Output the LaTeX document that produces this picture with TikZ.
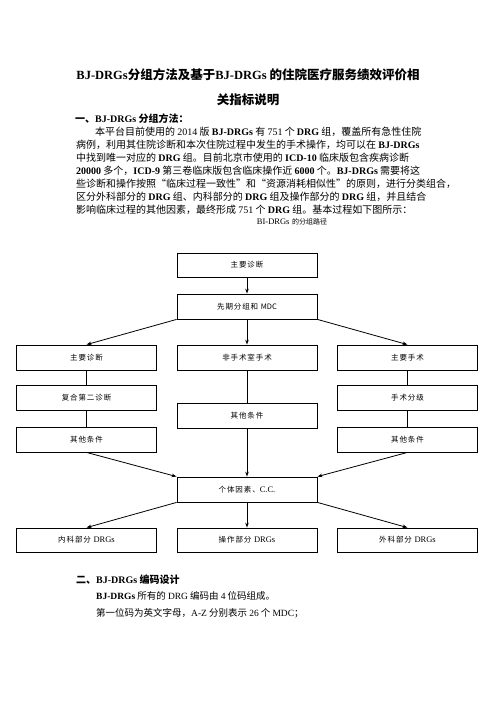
\documentclass[tikz,border=0pt]{standalone}
\usepackage{fontspec}
\setmainfont{Liberation Serif}
\newfontfamily\cjk{Noto Sans CJK SC}
\newfontfamily\cjkbox[LetterSpace=12]{Noto Sans CJK SC}
\newfontfamily\latin{Liberation Serif}
\newcommand\LB[1]{{\latin\bfseries #1}}
\newcommand\LR[1]{{\latin #1}}
\usetikzlibrary{arrows.meta}
\begin{document}
\begin{tikzpicture}[x=1pt,y=-1pt,
  box/.style={draw,line width=0.8pt,minimum width=140pt,minimum height=25pt,inner sep=0pt,font=\cjkbox\fontsize{7.5}{9}\selectfont},
  arr/.style={-{Stealth[length=5pt,width=3.5pt]},line width=0.8pt},
  ln/.style={line width=0.8pt},
  para/.style={anchor=base west,inner sep=0pt,font=\cjk\fontsize{10}{12}\selectfont},
  head/.style={anchor=base west,inner sep=0pt,font=\cjk\bfseries\fontsize{10}{12}\selectfont},
  sectwo/.style={anchor=base west,inner sep=0pt,font=\cjk\fontsize{9.5}{12}\selectfont},
  title/.style={anchor=base,inner sep=0pt,font=\cjk\bfseries\fontsize{12.5}{15}\selectfont},
]
\useasboundingbox[fill=white] (0,0) rectangle (496,702);
% title
\node[title] (t1) at (248,79.5) {\LB{BJ-DRGs}分组方法及基于\LB{BJ-DRGs} 的住院医疗服务绩效评价相};
\node[title] (t2) at (248,104) {关指标说明};
% section one
\node[head] (h1) at (75,122.5) {一、\LB{BJ-DRGs} 分组方法：};
\node[para] (p1) at (95,135) {本平台目前使用的 \LR{2014} 版 \LB{BJ-DRGs} 有 \LR{751} 个 \LB{DRG} 组，覆盖所有急性住院};
\node[para] (p2) at (76,148) {病例，利用其住院诊断和本次住院过程中发生的手术操作，均可以在 \LB{BJ-DRGs}};
\node[para] (p3) at (76,161) {中找到唯一对应的 \LB{DRG} 组。目前北京市使用的 \LB{ICD-10} 临床版包含疾病诊断};
\node[para] (p4) at (76,174.5) {\LB{20000} 多个，\LB{ICD-9} 第三卷临床版包含临床操作近 \LB{6000} 个。\LB{BJ-DRGs} 需要将这};
\node[para] (p5) at (76,187.5) {些诊断和操作按照“临床过程一致性”和“资源消耗相似性”的原则，进行分类组合，};
\node[para] (p6) at (76,200.5) {区分外科部分的 \LB{DRG} 组、内科部分的 \LB{DRG} 组及操作部分的 \LB{DRG} 组，并且结合};
\node[para] (p7) at (76,213) {影响临床过程的其他因素，最终形成 \LR{751} 个 \LB{DRG} 组。基本过程如下图所示：};
\node[anchor=base,inner sep=0pt] (cap) at (292,224) {{\latin\fontsize{8.5}{10}\selectfont BI-DRGs} {\cjk\fontsize{7}{9}\selectfont 的分组路径}};
% flowchart
\node[box,minimum height=24pt] (top) at (247,265) {主要诊断};
\node[box] (mdc) at (247,306.5) {先期分组和 {\cjk MDC}};
\node[box] (l1) at (86.5,357.5) {主要诊断};
\node[box] (m1) at (247,357.5) {非手术室手术};
\node[box] (r1) at (407.5,357.5) {主要手术};
\node[box] (l2) at (86.5,397.5) {复合第二诊断};
\node[box] (r2) at (407.5,397.5) {手术分级};
\node[box] (m2) at (247,415.5) {其他条件};
\node[box] (l3) at (86.5,439.5) {其他条件};
\node[box] (r3) at (407.5,439.5) {其他条件};
\node[box] (ind) at (247,489.5) {个体因素、{\latin\fontsize{8.5}{10}\selectfont C.C.}};
\node[box,minimum height=24pt] (b1) at (86.5,540) {内科部分 {\latin\fontsize{8.5}{10}\selectfont DRGs}};
\node[box,minimum height=24pt] (b2) at (247,540) {操作部分 {\latin\fontsize{8.5}{10}\selectfont DRGs}};
\node[box,minimum height=24pt] (b3) at (407.5,540) {外科部分 {\latin\fontsize{8.5}{10}\selectfont DRGs}};
\draw[arr] (top) -- (mdc);
\draw[arr] (mdc.south west) -- (l1.north);
\draw[arr] (mdc) -- (m1);
\draw[arr] (mdc.south east) -- (r1.north);
\draw[ln] (l1) -- (l2);
\draw[ln] (l2) -- (l3);
\draw[ln] (r1) -- (r2);
\draw[ln] (r2) -- (r3);
\draw[ln] (m1) -- (m2);
\draw[arr] (l3.south) -- (ind.north west);
\draw[arr] (m2) -- (ind);
\draw[arr] (r3.south) -- (ind.north east);
\draw[arr] (ind.south west) -- (b1.north);
\draw[arr] (ind) -- (b2);
\draw[arr] (ind.south east) -- (b3.north);
% section two
\node[head] (h2) at (76,583.5) {二、\LB{BJ-DRGs} 编码设计};
\node[sectwo] (q1) at (96,599.5) {\LB{BJ-DRGs} 所有的 \LR{DRG} 编码由 \LR{4} 位码组成。};
\node[sectwo] (q2) at (96,616.5) {第一位码为英文字母，\LR{A-Z} 分别表示 \LR{26} 个 \LR{MDC}；};
\end{tikzpicture}
\end{document}
